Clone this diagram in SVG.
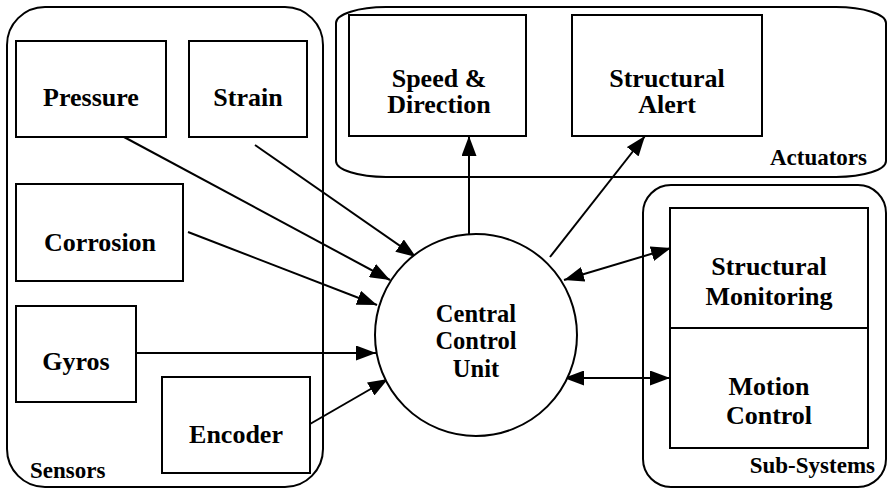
<svg xmlns="http://www.w3.org/2000/svg" width="888" height="490" viewBox="0 0 888 490">
  <style>
    .frame { fill: none; stroke: #000; stroke-width: 2; }
    .box { fill: #fff; stroke: #000; stroke-width: 2; }
    .wire { fill: none; stroke: #000; stroke-width: 2; }
    text { font-family: "Liberation Serif", serif; font-weight: bold; fill: #000; }
    .lbl { font-size: 26px; text-anchor: middle; }
    .hubtxt { font-size: 24.5px; text-anchor: middle; }
    .grp { font-size: 23px; }
  </style>
  <defs>
    <marker id="head" viewBox="0 0 20 15" refX="20" refY="7.5" markerWidth="20" markerHeight="15" markerUnits="userSpaceOnUse" orient="auto-start-reverse">
      <path d="M0,0 L20,7.5 L0,15 z" fill="#000"/>
    </marker>
  </defs>
  <rect width="888" height="490" fill="#fff"/>

  <!-- group frames -->
  <g id="sensors">
    <rect class="frame" x="7" y="7" width="316" height="480" rx="38" ry="38"/>
    <text class="grp" x="30" y="478">Sensors</text>
  </g>
  <g id="actuators">
    <rect class="frame" x="336" y="7" width="550" height="170" rx="50" ry="16"/>
    <text class="grp" x="867" y="165" text-anchor="end">Actuators</text>
  </g>
  <g id="subsystems">
    <rect class="frame" x="643" y="185" width="243" height="302" rx="28" ry="28"/>
    <text class="grp" x="875" y="473" text-anchor="end">Sub-Systems</text>
  </g>

  <!-- connectors -->
  <g id="connectors">
    <line class="wire" x1="124" y1="137" x2="390" y2="280" marker-end="url(#head)"/>
    <line class="wire" x1="255" y1="145" x2="416" y2="257" marker-end="url(#head)"/>
    <line class="wire" x1="188" y1="232" x2="377" y2="305" marker-end="url(#head)"/>
    <line class="wire" x1="137" y1="353" x2="376" y2="353" marker-end="url(#head)"/>
    <line class="wire" x1="310" y1="424" x2="388" y2="379" marker-end="url(#head)"/>
    <line class="wire" x1="469" y1="234" x2="469" y2="136" marker-end="url(#head)"/>
    <line class="wire" x1="550" y1="257" x2="645" y2="136" marker-end="url(#head)"/>
    <line class="wire" x1="564" y1="280" x2="671" y2="248" marker-start="url(#head)" marker-end="url(#head)"/>
    <line class="wire" x1="564" y1="378" x2="670" y2="378" marker-start="url(#head)" marker-end="url(#head)"/>
  </g>

  <!-- sensor nodes -->
  <g id="pressure">
    <rect class="box" x="16" y="41" width="150" height="96"/>
    <text class="lbl" x="91" y="106">Pressure</text>
  </g>
  <g id="strain">
    <rect class="box" x="189" y="41" width="118" height="96"/>
    <text class="lbl" x="248" y="106">Strain</text>
  </g>
  <g id="corrosion">
    <rect class="box" x="16" y="184" width="167" height="97"/>
    <text class="lbl" x="100" y="251">Corrosion</text>
  </g>
  <g id="gyros">
    <rect class="box" x="16" y="306" width="120" height="96"/>
    <text class="lbl" x="76" y="370">Gyros</text>
  </g>
  <g id="encoder">
    <rect class="box" x="162" y="377" width="148" height="96"/>
    <text class="lbl" x="236" y="443">Encoder</text>
  </g>

  <!-- actuator nodes -->
  <g id="speed-direction">
    <rect class="box" x="349" y="15" width="177" height="121"/>
    <text class="lbl" x="439" y="87">Speed &amp;</text>
    <text class="lbl" x="439" y="113">Direction</text>
  </g>
  <g id="structural-alert">
    <rect class="box" x="572" y="15" width="190" height="121"/>
    <text class="lbl" x="667" y="87">Structural</text>
    <text class="lbl" x="667" y="113">Alert</text>
  </g>

  <!-- sub-system nodes -->
  <g id="structural-monitoring">
    <rect class="box" x="670" y="208" width="198" height="120"/>
    <text class="lbl" x="769" y="275">Structural</text>
    <text class="lbl" x="769" y="305">Monitoring</text>
  </g>
  <g id="motion-control">
    <rect class="box" x="670" y="328" width="198" height="120"/>
    <text class="lbl" x="769" y="395">Motion</text>
    <text class="lbl" x="769" y="424">Control</text>
  </g>

  <!-- hub -->
  <g id="central-control-unit">
    <circle class="box" cx="476" cy="335" r="101"/>
    <text class="hubtxt" x="476" y="322">Central</text>
    <text class="hubtxt" x="476" y="349">Control</text>
    <text class="hubtxt" x="476" y="377">Unit</text>
  </g>
</svg>
